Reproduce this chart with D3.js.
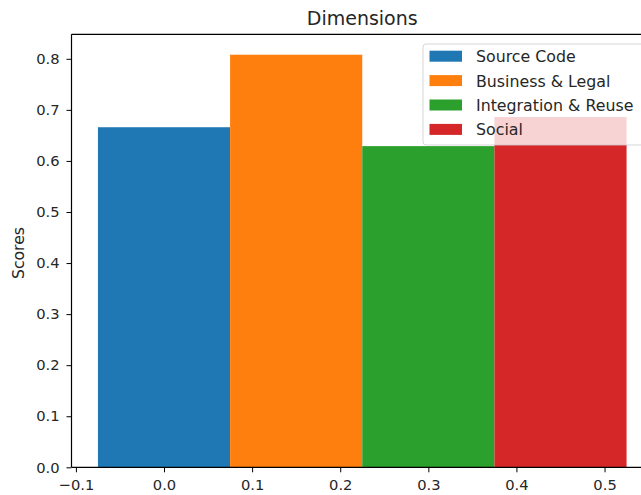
<!DOCTYPE html>
<html>
<head>
<meta charset="utf-8">
<script src="https://cdn.jsdelivr.net/npm/d3@7"></script>
<style>
  body { margin: 0; background: #fff; }
  text { font-family: "DejaVu Sans", sans-serif; fill: #262626; }
</style>
</head>
<body>
<script>
// chart data
var categories = ["Source Code", "Business & Legal", "Integration & Reuse", "Social"];
var positions = [0.0, 0.15, 0.30, 0.45];
var scores = [0.666, 0.808, 0.629, 0.686];
var colors = ["#1f77b4", "#ff7f0e", "#2ca02c", "#d62728"];
var xTicks = [-0.1, 0.0, 0.1, 0.2, 0.3, 0.4, 0.5];
var yTicks = [0.0, 0.1, 0.2, 0.3, 0.4, 0.5, 0.6, 0.7, 0.8];
var barWidth = 0.15;

var w = 641, h = 495;
var plotLeft = 71.5, plotTop = 34.3, plotBottom = 467.3, plotRight = 653;

window.onload = function(){
  var svg = d3.select("body").append("svg")
    .attr("width", w)
    .attr("height", h);

  // scales (axes run past the right edge of the picture)
  var x = d3.scaleLinear().domain([-0.105, 0.555]).range([plotLeft, plotRight]);
  var y = d3.scaleLinear().domain([0, 0.848]).range([plotBottom, plotTop]);

  // bars
  svg.selectAll(".bar")
    .data(scores)
    .enter()
    .append("rect")
    .attr("class", "bar")
    .attr("x", function(d, i){ return x(positions[i] - barWidth / 2); })
    .attr("width", function(d, i){ return x(positions[i] + barWidth / 2) - x(positions[i] - barWidth / 2); })
    .attr("y", function(d){ return y(d); })
    .attr("height", function(d){ return plotBottom - y(d); })
    .style("fill", function(d, i){ return colors[i]; });

  // axes
  var xAxis = d3.axisBottom(x).tickValues(xTicks).tickSize(5).tickPadding(7.5)
    .tickFormat(function(d){ return d < 0 ? "\u2212" + d3.format(".1f")(-d) : d3.format(".1f")(d); });
  var gx = svg.append("g")
    .attr("transform", "translate(0," + plotBottom + ")")
    .call(xAxis);
  gx.select(".domain").remove();
  gx.selectAll("line").style("stroke", "#000");
  gx.selectAll("text").style("font-size", "14.7px").style("fill", "#262626");

  var yAxis = d3.axisLeft(y).tickValues(yTicks).tickSize(5).tickPadding(7)
    .tickFormat(d3.format(".1f"));
  var gy = svg.append("g")
    .attr("transform", "translate(" + plotLeft + ",0)")
    .call(yAxis);
  gy.select(".domain").remove();
  gy.selectAll("line").style("stroke", "#000");
  gy.selectAll("text").style("font-size", "14.7px").style("fill", "#262626");

  // spines
  svg.append("line").attr("x1", plotLeft).attr("x2", plotRight).attr("y1", plotTop).attr("y2", plotTop)
    .style("stroke", "#000").style("stroke-width", 1.2);
  svg.append("line").attr("x1", plotLeft).attr("x2", plotRight).attr("y1", plotBottom).attr("y2", plotBottom)
    .style("stroke", "#000").style("stroke-width", 1.2);
  svg.append("line").attr("x1", plotLeft).attr("x2", plotLeft).attr("y1", plotTop).attr("y2", plotBottom)
    .style("stroke", "#000").style("stroke-width", 1.2);

  // title
  svg.append("text")
    .attr("x", (plotLeft + plotRight) / 2)
    .attr("y", 25)
    .attr("text-anchor", "middle")
    .style("font-size", "19px")
    .text("Dimensions");

  // y label
  svg.append("text")
    .attr("transform", "translate(24,253) rotate(-90)")
    .attr("text-anchor", "middle")
    .style("font-size", "15.7px")
    .text("Scores");

  // legend
  var legend = svg.append("g").attr("transform", "translate(423,44)");
  legend.append("rect")
    .attr("width", 223).attr("height", 101).attr("rx", 3)
    .style("fill", "rgba(255,255,255,0.8)")
    .style("stroke", "#ccc").style("stroke-opacity", 0.8);
  var items = legend.selectAll(".item")
    .data(categories)
    .enter()
    .append("g")
    .attr("class", "item")
    .attr("transform", function(d, i){ return "translate(0," + (12.2 + i * 24.4) + ")"; });
  items.append("rect")
    .attr("x", 6.5).attr("y", -5.5).attr("width", 32.5).attr("height", 11)
    .style("fill", function(d, i){ return colors[i]; });
  items.append("text")
    .attr("x", 53).attr("y", 6)
    .style("font-size", "15.8px")
    .text(function(d){ return d; });
};
</script>
</body>
</html>
